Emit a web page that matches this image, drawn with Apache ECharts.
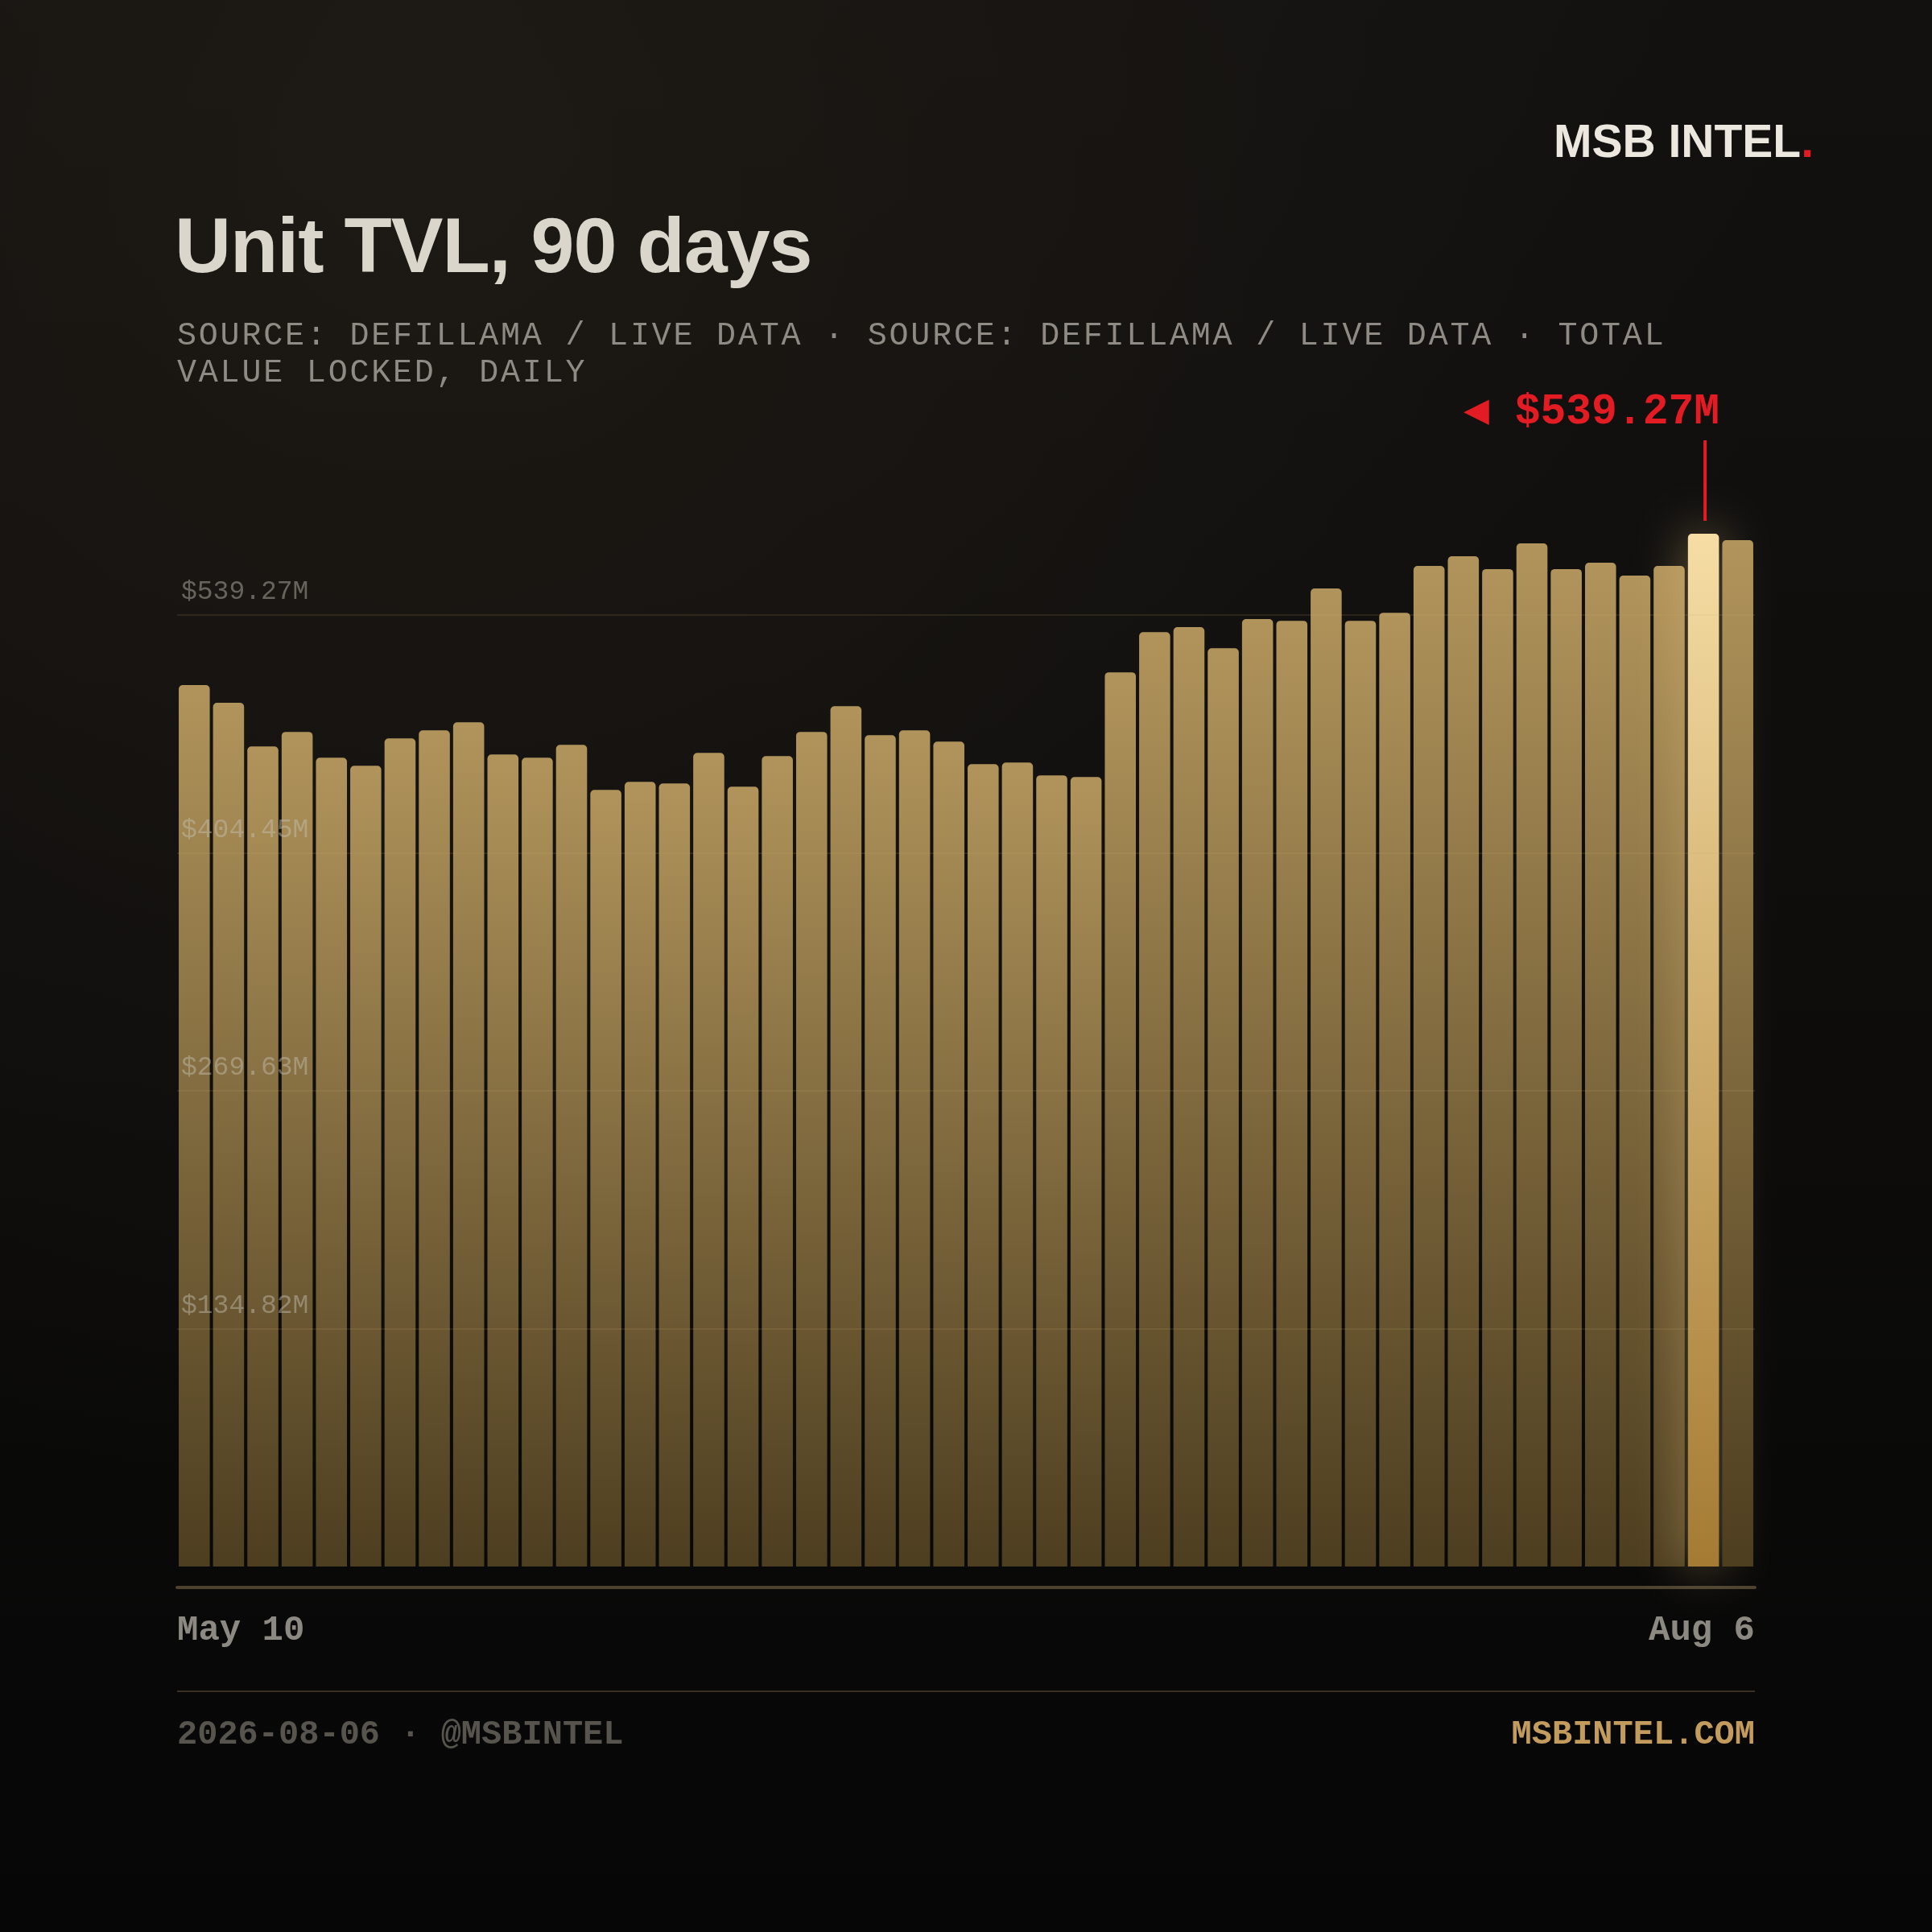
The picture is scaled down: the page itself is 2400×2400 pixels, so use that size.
<!DOCTYPE html>
<html><head><meta charset="utf-8">
<script src="https://cdn.jsdelivr.net/npm/echarts@6/dist/echarts.min.js"></script>
<style>html,body{margin:0;padding:0;background:#0b0a09;}#c{width:2400px;height:2400px;}</style>
</head><body><div id="c"></div>
<script>
const categories = [
  'May 10','May 12','May 14','May 16','May 18','May 20','May 22','May 24','May 26','May 28','May 30',
  'Jun 1','Jun 3','Jun 5','Jun 7','Jun 9','Jun 11','Jun 13','Jun 15','Jun 17','Jun 19','Jun 21','Jun 23','Jun 25','Jun 27','Jun 29',
  'Jul 1','Jul 3','Jul 5','Jul 7','Jul 9','Jul 11','Jul 13','Jul 15','Jul 17','Jul 19','Jul 21','Jul 23','Jul 25','Jul 27','Jul 29','Jul 31',
  'Aug 2','Aug 4','Aug 5','Aug 6'
];
const tvlValues = [
  460.2, 451.0, 428.2, 435.8, 422.3, 418.1, 432.4, 436.6, 440.8, 424.0,
  422.3, 429.0, 405.5, 409.7, 408.8, 424.8, 407.2, 423.1, 435.8, 449.2,
  434.1, 436.6, 430.7, 418.9, 419.8, 413.1, 412.2, 466.9, 487.9, 490.5,
  479.5, 494.7, 493.8, 510.7, 493.8, 498.0, 522.4, 527.5, 520.8, 534.2,
  520.8, 524.1, 517.4, 522.4, 539.27, 535.9
];
const yTickLabels = ['', '$134.82M', '$269.63M', '$404.45M', '$539.27M'];
const yAxisMax = 496.8;
const yAxisInterval = 124.2;

const titleText = 'Unit TVL, 90 days';
const subtitleText = 'SOURCE: DEFILLAMA / LIVE DATA · SOURCE: DEFILLAMA / LIVE DATA · TOTAL\nVALUE LOCKED, DAILY';
const footerLeft = '2026-08-06 · @MSBINTEL';
const footerRight = 'MSBINTEL.COM';

const MONO = '"Liberation Mono", "DejaVu Sans Mono", monospace';
const SANS = '"Liberation Sans", Arial, sans-serif';

const chart = echarts.init(document.getElementById('c'), null, {renderer: 'canvas', width: 2400, height: 2400});

const maxVal = Math.max(...tvlValues);
const maxIdx = tvlValues.indexOf(maxVal);
const annotationText = '◀ $' + maxVal.toFixed(2) + 'M';

const barColor = new echarts.graphic.LinearGradient(0, 0, 0, 1, [
  {offset: 0, color: '#b1945b'}, {offset: 1, color: '#4d3e20'}
]);
const hiColor = new echarts.graphic.LinearGradient(0, 0, 0, 1, [
  {offset: 0, color: '#f6dda4'}, {offset: 1, color: '#a57b33'}
]);
const seriesData = tvlValues.map((v, i) => i === maxIdx
  ? {value: v, itemStyle: {color: hiColor, shadowBlur: 60, shadowColor: 'rgba(240,205,130,0.45)'}}
  : v);

const option = {
  animation: false,
  backgroundColor: {
    type: 'linear', x: 0, y: 0, x2: 0, y2: 1,
    colorStops: [{offset: 0, color: '#121110'}, {offset: 0.5, color: '#0e0d0c'}, {offset: 1, color: '#060606'}]
  },
  grid: {left: 220, right: 220, top: 764, bottom: 454, containLabel: false, outerBoundsMode: 'none'},
  xAxis: [
    {type: 'category', data: categories, show: false},
    {
      type: 'category', data: categories, boundaryGap: false, position: 'bottom', offset: 26,
      axisLine: {show: true, lineStyle: {color: '#4d4230', width: 4}},
      axisTick: {show: false},
      splitLine: {show: false},
      axisLabel: {
        show: true, margin: 32,
        interval: (i) => i === 0 || i === categories.length - 1,
        alignMinLabel: 'left', alignMaxLabel: 'right',
        color: '#8c8982', fontFamily: MONO, fontWeight: 'bold', fontSize: 44
      }
    }
  ],
  yAxis: {
    type: 'value', min: 0, max: yAxisMax, interval: yAxisInterval, z: 10,
    axisLine: {show: false}, axisTick: {show: false},
    splitLine: {show: true, showMinLine: false, lineStyle: {color: 'rgba(200,170,110,0.13)', width: 2}},
    axisLabel: {
      inside: true, margin: 5, verticalAlign: 'bottom', padding: [0, 0, 12, 0],
      color: 'rgba(200,195,185,0.45)', fontFamily: MONO, fontSize: 33,
      formatter: (v) => yTickLabels[Math.round(v / yAxisInterval)] || ''
    }
  },
  series: [{
    type: 'bar', xAxisIndex: 0, yAxisIndex: 0, data: seriesData,
    barCategoryGap: '9.5%', clip: false, silent: true,
    itemStyle: {color: barColor, borderRadius: [5, 5, 0, 0]},
    emphasis: {disabled: true}
  }],
  graphic: [
    {id: 'glow', type: 'rect', z: -10, silent: true, shape: {x: 0, y: 0, width: 2400, height: 2400},
      style: {fill: {type: 'radial', x: 0.22, y: 0.08, r: 0.7,
        colorStops: [{offset: 0, color: 'rgba(44,37,27,0.45)'}, {offset: 1, color: 'rgba(44,37,27,0)'}]}}},
    {id: 'logo', type: 'text', x: 2253, y: 179, silent: true,
      style: {text: '{a|MSB INTEL}{b|.}', align: 'right', verticalAlign: 'middle',
        font: 'bold 57px ' + SANS,
        rich: {a: {fill: '#ede8df', font: 'bold 57px ' + SANS}, b: {fill: '#e31b23', font: 'bold 57px ' + SANS}}}},
    {id: 'title', type: 'text', x: 217, y: 311, zlevel: 2, silent: true,
      style: {text: titleText, font: 'bold 97px ' + SANS, fill: '#dbd6cc', verticalAlign: 'middle'}},
    {id: 'subtitle', type: 'text', x: 220, y: 394, zlevel: 1, silent: true,
      style: {text: subtitleText, font: '40px ' + MONO, fill: '#8f8b84', lineHeight: 46, verticalAlign: 'top'}},
    {id: 'footsep', type: 'line', silent: true, shape: {x1: 220, y1: 2101, x2: 2180, y2: 2101},
      style: {stroke: '#3a3024', lineWidth: 2}},
    {id: 'footL', type: 'text', x: 220, y: 2155, silent: true,
      style: {text: footerLeft, font: 'bold 42px ' + MONO, fill: '#57544e', verticalAlign: 'middle'}},
    {id: 'footR', type: 'text', x: 2180, y: 2155, silent: true,
      style: {text: footerRight, font: 'bold 42px ' + MONO, fill: '#c39c5d', align: 'right', verticalAlign: 'middle'}}
  ]
};
chart.setOption(option);

// annotation anchored to the max bar via the chart's own scales
const p = chart.convertToPixel({seriesIndex: 0}, [maxIdx, maxVal]);
chart.setOption({
  graphic: [
    {id: 'annLine', type: 'rect', silent: true, z: 20,
      shape: {x: p[0], y: p[1] - 116, width: 4, height: 100},
      style: {fill: '#e31b23'}},
    {id: 'annText', type: 'text', silent: true, z: 20, x: p[0] + 20, y: p[1] - 150,
      style: {text: annotationText, font: 'bold 53px ' + MONO, fill: '#e31b23', align: 'right', verticalAlign: 'middle'}}
  ]
});

// letter spacing on the title / subtitle layers
try {
  const painter = chart.getZr().painter;
  const l1 = painter.getLayer(1);
  if (l1 && l1.ctx) l1.ctx.letterSpacing = '2.8px';
  const l2 = painter.getLayer(2);
  if (l2 && l2.ctx) l2.ctx.letterSpacing = '-1px';
  painter.refresh(true);
} catch (e) {}
</script>
</body></html>
